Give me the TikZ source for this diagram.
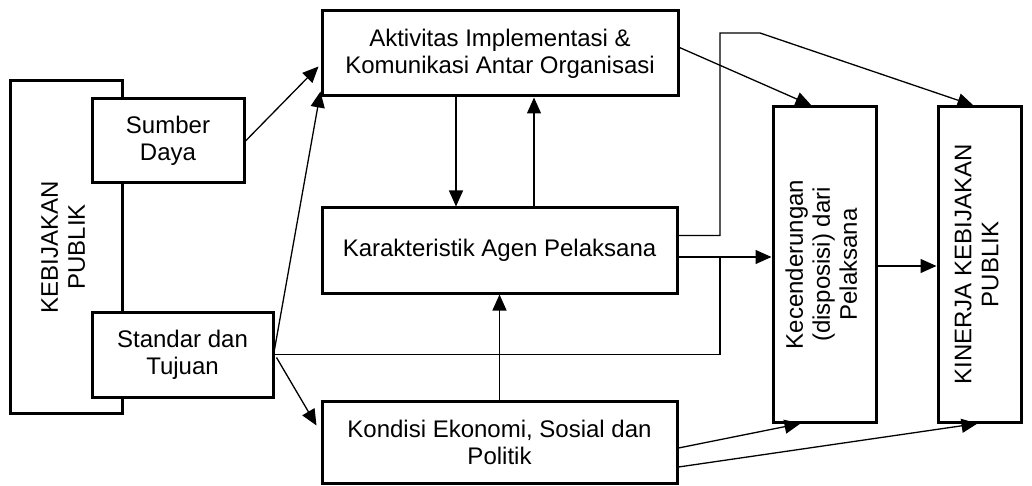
\documentclass[tikz,border=0pt]{standalone}
\usepackage{fontspec}
\setmainfont{Liberation Sans}
\usepackage{graphicx}
\usetikzlibrary{arrows.meta,calc}

\tikzset{
  box/.style={draw, rectangle, line width=1.5pt, fill=white, inner sep=0pt, align=center, font=\fontsize{12}{13.5}\selectfont},
  arr/.style={-{Triangle[length=8pt,width=7pt]}, line width=0.65pt},
  ln/.style={line width=0.65pt}
}

\begin{document}
\begin{tikzpicture}[x=0.5pt, y=-0.5pt]

\useasboundingbox (0,0) rectangle (1032,486);

% Policy block on the left
\node[box, minimum width=56pt, minimum height=166pt] (kp) at (66,247) {\rotatebox{90}{\begin{tabular}{@{}c@{}}KEBIJAKAN\\PUBLIK\end{tabular}}};
\node[box, minimum width=76pt, minimum height=42pt] (sd) at (168,141) {Sumber\\Daya};
\node[box, minimum width=90.5pt, minimum height=42.5pt] (st) at (182.5,354.5) {Standar dan\\Tujuan};

% Middle column
\node[box, minimum width=178pt, minimum height=42.5pt] (akt) at (500,53.5) {Aktivitas Implementasi \&\\Komunikasi Antar Organisasi};
\node[box, minimum width=177.5pt, minimum height=42.5pt] (kar) at (499.5,250.5) {Karakteristik Agen Pelaksana};
\node[box, minimum width=177.5pt, minimum height=41pt] (kon) at (499.5,442) {Kondisi Ekonomi, Sosial dan\\Politik};

% Right column
\node[box, minimum width=51.5pt, minimum height=157.5pt] (kec) at (824.5,264.5) {\rotatebox{90}{\begin{tabular}{@{}c@{}}Kecenderungan\\(disposisi) dari\\Pelaksana\end{tabular}}};
\node[box, minimum width=41.5pt, minimum height=157.5pt] (kin) at (979.5,264.5) {\rotatebox{90}{\begin{tabular}{@{}c@{}}KINERJA KEBIJAKAN\\PUBLIK\end{tabular}}};

% Bend points
\coordinate (join) at (720,257);
\coordinate (up1) at (720,33);
\coordinate (up2) at (760,33);

% Connectors from the left block
\draw[arr] (sd.east) -- ($(akt.west)+(-2,13)$);
\draw[arr] ($(st.east)+(0,-5)$) -- ($(akt.south west)+(0,-6)$);
\draw[arr] ($(st.east)+(2,3)$) -- ($(kon.north west)+(-4,26)$);
\draw[ln] (st.east) -| (join);

% Connectors in the middle column
\draw[arr] ($(akt.south)+(-44,0)$) -- ($(kar.north)+(-43.5,0)$);
\draw[arr] ($(kar.north)+(34.5,0)$) -- ($(akt.south)+(34,0)$);
\draw[arr] (kon.north) -- (kar.south);

% Connectors to the right column
\draw[arr] ($(kar.east)+(0,6.5)$) -- ($(kec.west)+(0,-7.5)$);
\draw[arr] ($(kar.east)+(0,-15)$) -| (up1) -- (up2) -- ($(kin.north)+(-6,0)$);
\draw[arr] ($(akt.east)+(0,-6)$) -- ($(kec.north)+(-13,0)$);
\draw[arr] ($(kec.east)+(0,1.5)$) -- ($(kin.west)+(0,1.5)$);
\draw[arr] ($(kon.east)+(0,6)$) -- ($(kec.south)+(-24,0)$);
\draw[arr] ($(kon.east)+(0,25)$) -- ($(kin.south)+(-2,0)$);

\end{tikzpicture}
\end{document}
